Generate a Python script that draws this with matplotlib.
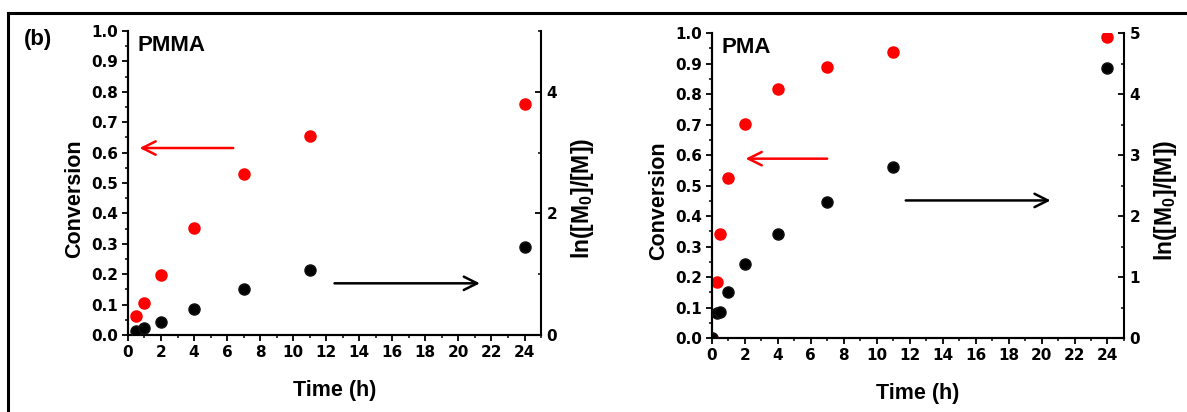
import matplotlib
matplotlib.use("Agg")
import matplotlib.pyplot as plt
from matplotlib.ticker import MultipleLocator
from matplotlib.lines import Line2D

plt.rcParams["font.family"] = ["Liberation Sans", "DejaVu Sans"]
plt.rcParams["font.weight"] = "bold"
plt.rcParams["mathtext.fontset"] = "custom"
plt.rcParams["mathtext.rm"] = "Liberation Sans:bold"
plt.rcParams["mathtext.it"] = "Liberation Sans:bold"
plt.rcParams["mathtext.bf"] = "Liberation Sans:bold"

# PMMA
pmma_t_conv = [0.5, 1, 2, 4, 7, 11, 24]
pmma_conv = [0.063, 0.106, 0.196, 0.353, 0.529, 0.656, 0.761]
pmma_t_ln = [0.5, 1, 2, 4, 7, 11, 24]
pmma_ln = [0.06, 0.12, 0.21, 0.43, 0.75, 1.07, 1.44]

# PMA
pma_t_conv = [0, 0.33, 0.5, 1, 2, 4, 7, 11, 24]
pma_conv = [0.0, 0.183, 0.341, 0.524, 0.702, 0.816, 0.89, 0.937, 0.986]
pma_t_ln = [0, 0.33, 0.5, 1, 2, 4, 7, 11, 24]
pma_ln = [0.0, 0.405, 0.42, 0.754, 1.22, 1.70, 2.23, 2.80, 4.43]

RED = "#ff0000"
FS_TICK = 11
FS_LABEL = 15.5
TICK_FONT = "DejaVu Sans"


def panel(fig, rect, name, t_c, conv, t_l, ln, ln_major, arrows):
    ax = fig.add_axes(rect)
    ax2 = ax.twinx()

    ax.plot(t_c, conv, "o", color=RED, ms=8, mec=RED, zorder=3)
    ax2.plot(t_l, ln, "o", color="black", ms=8, mec="#111111", zorder=3)

    ax.set_xlim(0, 25)
    ax.set_ylim(0, 1.0)
    ax2.set_ylim(0, 5)

    ax.xaxis.set_major_locator(MultipleLocator(2))
    ax.xaxis.set_minor_locator(MultipleLocator(1))
    ax.yaxis.set_major_locator(MultipleLocator(0.1))
    ax.yaxis.set_minor_locator(MultipleLocator(0.05))
    ax2.yaxis.set_major_locator(MultipleLocator(ln_major))
    ax2.yaxis.set_minor_locator(MultipleLocator(ln_major / 2))
    ax.yaxis.set_major_formatter(plt.FormatStrFormatter("%.1f"))

    for a in (ax, ax2):
        a.spines["top"].set_visible(False)
        for s in ("left", "bottom", "right"):
            a.spines[s].set_linewidth(1.5)
    ax.spines["right"].set_visible(False)

    ax.tick_params(axis="both", which="major", direction="out", length=4.5,
                   width=1.3, labelsize=FS_TICK, pad=2.5)
    ax.tick_params(axis="both", which="minor", direction="out", length=2.5,
                   width=1.1)
    ax2.tick_params(axis="y", which="major", direction="in", length=4.5,
                    width=1.3, labelsize=FS_TICK, pad=4)
    ax2.tick_params(axis="y", which="minor", direction="in", length=2.5,
                    width=1.1)
    for lab in ax.get_xticklabels() + ax.get_yticklabels() + ax2.get_yticklabels():
        lab.set_fontweight("bold")
        lab.set_fontfamily(TICK_FONT)

    ax.set_xlabel("Time (h)", fontsize=FS_LABEL, fontweight="bold", va="center")
    ax.xaxis.set_label_coords(0.5, -0.183)
    ax.set_ylabel("Conversion", fontsize=FS_LABEL, fontweight="bold", va="center")
    ax.yaxis.set_label_coords(-0.13, 0.45)
    ax2.set_ylabel("ln([M$_0$]/[M])", fontsize=16.5, fontweight="bold",
                   va="center", rotation=90)
    ax2.yaxis.set_label_coords(1.10, 0.45)

    ax.text(0.024, 0.952, name, transform=ax.transAxes, fontsize=16,
            fontweight="bold", va="center", ha="left")

    for x0, x1, y, c in arrows:
        ax.annotate("", xy=(x1, y), xytext=(x0, y),
                    arrowprops=dict(arrowstyle="->", color=c, lw=1.8,
                                    mutation_scale=24, shrinkA=0, shrinkB=0))
    return ax


fig = plt.figure(figsize=(11.87, 4.12), dpi=100)

panel(fig, [0.1078, 0.1869, 0.348, 0.7379], "PMMA",
      pmma_t_conv, pmma_conv, pmma_t_ln, pmma_ln, 2,
      [(6.37, 0.70, 0.615, RED), (12.5, 21.3, 0.170, "black")])
panel(fig, [0.5998, 0.1796, 0.3471, 0.7403], "PMA",
      pma_t_conv, pma_conv, pma_t_ln, pma_ln, 1,
      [(6.99, 2.04, 0.588, RED), (11.76, 20.55, 0.451, "black")])

fig.text(0.020, 0.905, "(b)", fontsize=16, fontweight="bold",
         ha="left", va="center")

# outer frame (open on the right and bottom)
fig.add_artist(Line2D([8 / 1187, 1.0], [1 - 13 / 412, 1 - 13 / 412],
                      transform=fig.transFigure, color="black", lw=2.2))
fig.add_artist(Line2D([8 / 1187, 8 / 1187], [1 - 13 / 412, 0.0],
                      transform=fig.transFigure, color="black", lw=2.2))

fig.savefig("out.png", dpi=100)
